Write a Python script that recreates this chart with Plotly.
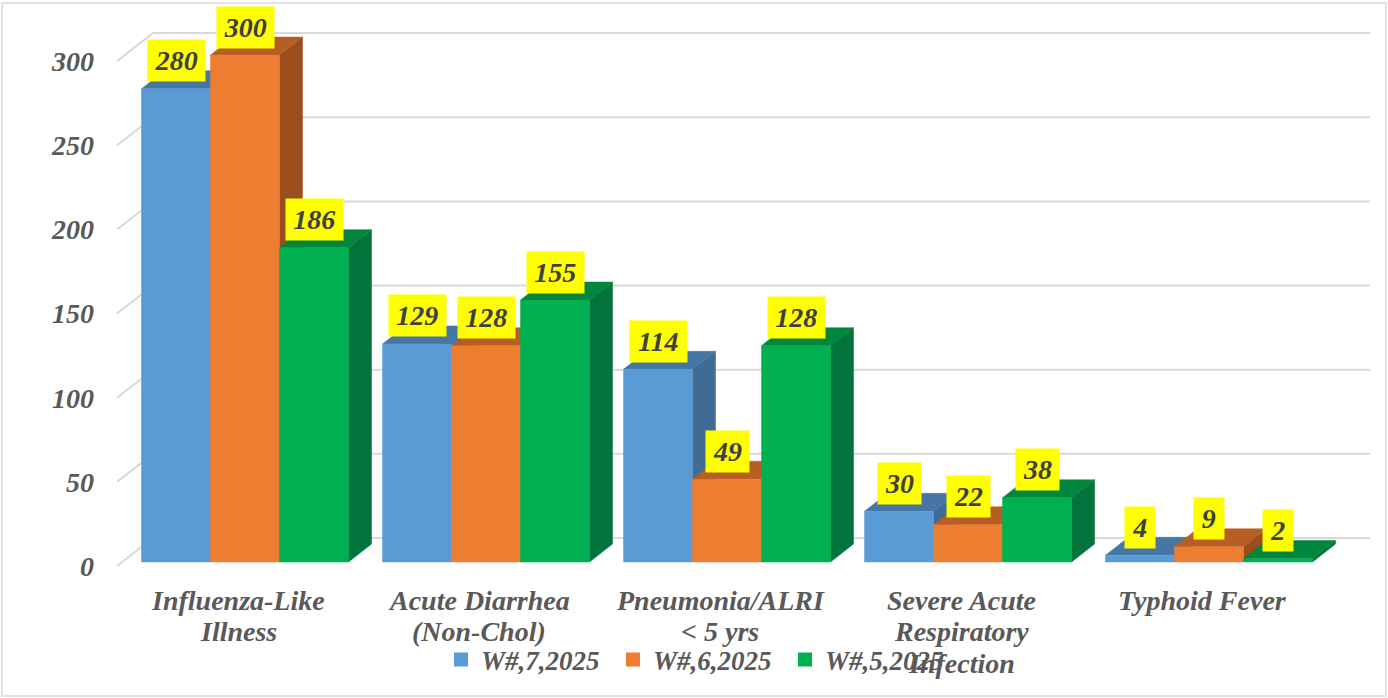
import plotly.graph_objects as go

# ---------------- data ----------------
categories = ["Influenza-Like Illness", "Acute Diarrhea (Non-Chol)", "Pneumonia/ALRI < 5 yrs",
              "Severe Acute Respiratory Infection", "Typhoid Fever"]
category_labels = [["Influenza-Like", "Illness"], ["Acute Diarrhea", "(Non-Chol)"],
                   ["Pneumonia/ALRI", "&lt; 5 yrs"], ["Severe Acute", "Respiratory", "Infection"],
                   ["Typhoid Fever"]]
series_names = ["W#,7,2025", "W#,6,2025", "W#,5,2025"]
w7_2025 = [280, 129, 114, 30, 4]
w6_2025 = [300, 128, 49, 22, 9]
w5_2025 = [186, 155, 128, 38, 2]
y_ticks = [0, 50, 100, 150, 200, 250, 300]

series_values = [w7_2025, w6_2025, w5_2025]

# ---------------- style ----------------
front_colors = ["#5B9BD5", "#ED7D31", "#00B050"]
top_colors = ["#4676A4", "#B65E24", "#00873D"]
side_colors = ["#3F6B94", "#9A4D1D", "#00743A"]
FONT = "Liberation Serif, Times New Roman, serif"
TXT = "#595959"

W, H = 1388, 698
PL, PR, PT, PB = 117, 1372, 5, 570          # plot area in pixels
PX_X, PX_Y = 241.0, 1.69                    # pixels per x unit / y unit
X0PX, Y0PX = 245.0, 562.0                   # pixel of group 0 centre / value 0
xr = [(PL - X0PX) / PX_X, (PR - X0PX) / PX_X]
yr = [-(PB - Y0PX) / PX_Y, (Y0PX - PT) / PX_Y]
pw, ph = PR - PL, PB - PT

BW = 69 / PX_X              # bar width
GOFF = 103.5 / PX_X         # half group width
DX, DY = 23 / PX_X, 18 / PX_Y            # bar depth
WDX, WDY = 36 / PX_X, 28 / PX_Y          # wall depth
WALL_SCALE, WALL_OFF = 1.683, 4.0        # wall scale (px per unit) and offset


def wall_y(v):
    return (WALL_SCALE * v - WALL_OFF) / PX_Y


fig = go.Figure()

# back wall gridlines
gx, gy = [], []
xL = xr[0]
xR = (1370 - X0PX) / PX_X
for v in y_ticks:
    wy = wall_y(v)
    gx += [xL, xL + WDX, xR, None]
    gy += [wy, wy + WDY, wy + WDY, None]
fig.add_trace(go.Scatter(x=gx, y=gy, mode="lines", line=dict(color="#D9D9D9", width=2),
                         hoverinfo="skip", showlegend=False))


def poly(xs, ys, color):
    fig.add_trace(go.Scatter(x=xs + [xs[0]], y=ys + [ys[0]], fill="toself", fillcolor=color,
                             mode="lines", line=dict(color=color, width=0.5),
                             hoverinfo="skip", showlegend=False))


annotations = []
for g in range(len(categories)):
    for i, vals in enumerate(series_values):
        v = vals[g]
        x0 = g - GOFF + i * BW
        x1 = x0 + BW
        poly([x1, x1 + DX, x1 + DX, x1], [0, DY, v + DY, v], side_colors[i])
        poly([x0, x1, x1 + DX, x0 + DX], [v, v, v + DY, v + DY], top_colors[i])
        poly([x0, x1, x1, x0], [0, 0, v, v], front_colors[i])
        n = len(str(v))
        annotations.append(dict(x=(x0 + x1) / 2, y=v, xref="x", yref="y", yshift=28,
                                text=str(v), showarrow=False, bgcolor="#FFFF00",
                                borderpad=4, width=13.5 * n + 8, height=33,
                                xanchor="center", yanchor="middle",
                                font=dict(family=FONT, size=28, color="#404040",
                                          weight="bold", style="italic")))

# category labels (one annotation per line, Excel-like line spacing)
LINE0, LINE_STEP = 600, 31.5
for g, lines in enumerate(category_labels):
    for k, line in enumerate(lines):
        annotations.append(dict(x=g - 7 / PX_X, y=(PB - (LINE0 + k * LINE_STEP)) / ph,
                                xref="x", yref="paper", text=line, showarrow=False,
                                xanchor="center", yanchor="middle",
                                font=dict(family=FONT, size=28, color=TXT,
                                          weight="bold", style="italic")))

# legend entries
for i, name in enumerate(series_names):
    fig.add_trace(go.Scatter(x=[None], y=[None], mode="markers", name=name,
                             marker=dict(symbol="square", size=14, color=front_colors[i])))

# chart border
shapes = [dict(type="rect", xref="paper", yref="paper",
               x0=(2 - PL) / pw, x1=(1386 - PL) / pw,
               y0=(PB - 696) / ph, y1=(PB - 3) / ph,
               line=dict(color="#D9D9D9", width=1.5), fillcolor="rgba(0,0,0,0)",
               layer="below")]

fig.update_layout(
    width=W, height=H,
    margin=dict(l=PL, r=W - PR, t=PT, b=H - PB, pad=0),
    paper_bgcolor="white", plot_bgcolor="white",
    showlegend=True,
    legend=dict(orientation="h", x=(441 - PL) / pw, xanchor="left",
                y=(PB - 660) / ph, yanchor="middle", bgcolor="rgba(0,0,0,0)",
                font=dict(family=FONT, size=27, color=TXT, weight="bold", style="italic"),
                itemwidth=30, entrywidth=127, entrywidthmode="pixels"),
    xaxis=dict(range=xr, showgrid=False, zeroline=False, showline=False,
               showticklabels=False, ticks=""),
    yaxis=dict(range=yr, showgrid=False, zeroline=False, showline=False,
               tickvals=[wall_y(v) for v in y_ticks], ticktext=[str(v) for v in y_ticks],
               ticks="", ticklabelstandoff=22,
               tickfont=dict(family=FONT, size=28, color=TXT, weight="bold", style="italic")),
    annotations=annotations,
    shapes=shapes,
)

fig.write_html("out.html", config={"displayModeBar": False},
               post_script="document.body.style.margin='0px';")
